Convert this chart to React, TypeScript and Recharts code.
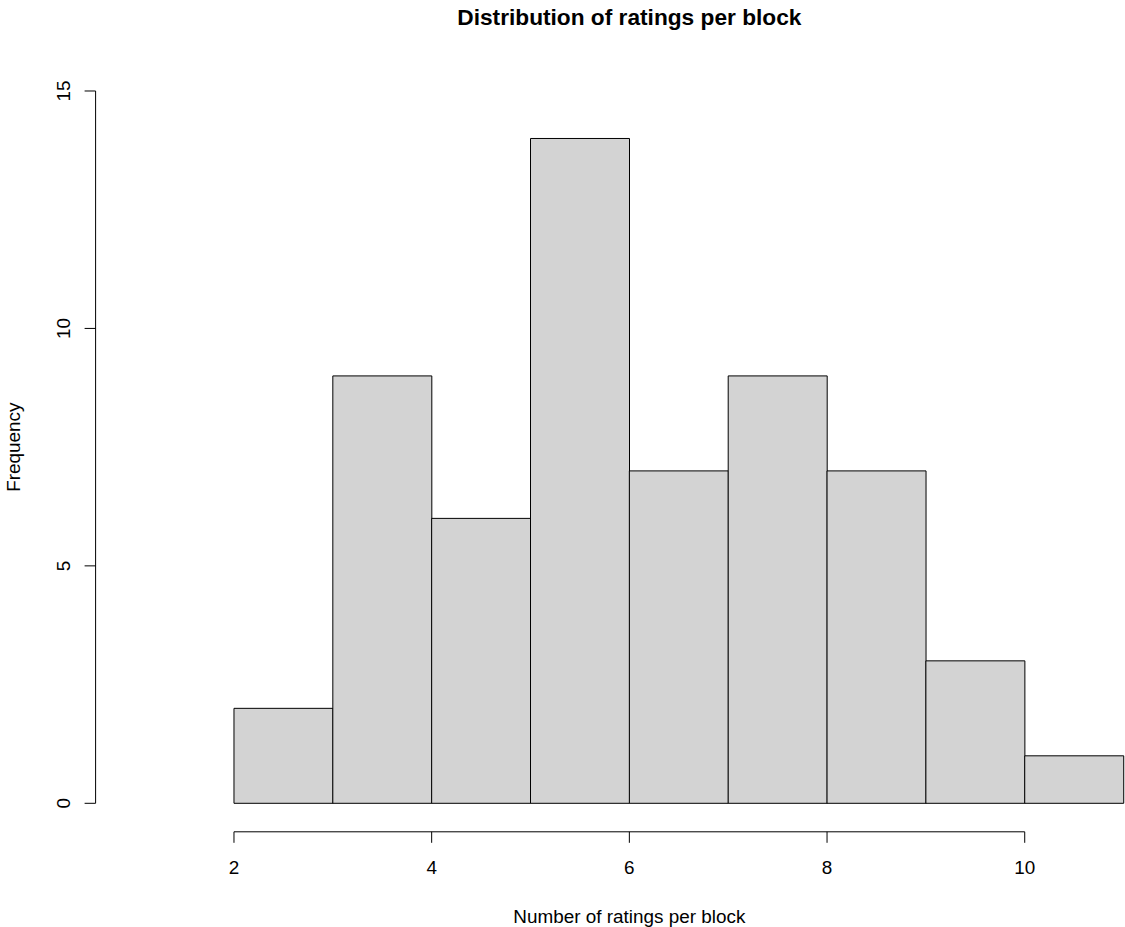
import { ComposedChart, Bar, XAxis, YAxis, ReferenceLine } from "recharts";

// histogram bins (left edge) and their counts
const binStarts = [2, 3, 4, 5, 6, 7, 8, 9, 10];
const binWidth = 1;
const counts = [2, 9, 6, 14, 7, 9, 7, 3, 1];

const xTicks = [2, 4, 6, 8, 10];
const yTicks = [0, 5, 10, 15];
const xDomain = [0.6, 11.4];
const yDomain = [-0.6, 15.6];

const title = "Distribution of ratings per block";
const xLabel = "Number of ratings per block";
const yLabel = "Frequency";

const data = binStarts.map((start, i) => ({
  mid: start + binWidth / 2,
  count: counts[i],
}));

const FONT = "'Liberation Sans', Arial, sans-serif";
const BASE = 18.9;

const W = 1200;
const H = 927;
const plotLeft = 95.6;
const plotRight = 1163.1;
const plotTop = 62.5;
const plotBottom = 831.8;
const midX = (plotLeft + plotRight) / 2;
const midY = (plotTop + plotBottom) / 2;

const YTick = (props: any) => {
  const { x, y, payload } = props;
  return (
    <text
      x={x}
      y={y}
      transform={`rotate(-90 ${x} ${y})`}
      textAnchor="middle"
      fontSize={BASE}
      fontFamily={FONT}
      fill="#000"
    >
      {payload.value}
    </text>
  );
};

export default function App() {
  return (
    <div
      style={{
        position: "fixed",
        left: 0,
        top: 0,
        width: 1125,
        height: 927,
        overflow: "hidden",
        background: "#fff",
      }}
    >
      <ComposedChart
        width={W}
        height={H}
        data={data}
        margin={{ top: plotTop, right: W - plotRight, bottom: 0, left: 0 }}
        barCategoryGap={0}
        barGap={0}
        style={{ fontFamily: FONT }}
      >
        <XAxis
          dataKey="mid"
          type="number"
          domain={xDomain}
          ticks={xTicks}
          allowDataOverflow
          axisLine={false}
          tickLine={{ stroke: "#000" }}
          tickSize={11}
          tickMargin={17.7}
          height={H - plotBottom}
          tick={{ fontSize: BASE, fill: "#000", fontFamily: FONT }}
        />
        <YAxis
          type="number"
          domain={yDomain}
          ticks={yTicks}
          allowDataOverflow
          axisLine={false}
          tickLine={{ stroke: "#000" }}
          tickSize={11}
          tickMargin={14.6}
          width={plotLeft}
          tick={<YTick />}
        />
        <Bar
          dataKey="count"
          fill="#D3D3D3"
          stroke="#000"
          strokeWidth={1}
          isAnimationActive={false}
        />
        <ReferenceLine
          segment={[
            { x: xTicks[0], y: yDomain[0] },
            { x: xTicks[xTicks.length - 1], y: yDomain[0] },
          ]}
          stroke="#000"
          ifOverflow="visible"
        />
        <ReferenceLine
          segment={[
            { x: xDomain[0], y: yTicks[0] },
            { x: xDomain[0], y: yTicks[yTicks.length - 1] },
          ]}
          stroke="#000"
          ifOverflow="visible"
        />
      </ComposedChart>
      <svg
        width={W}
        height={H}
        style={{ position: "absolute", left: 0, top: 0, pointerEvents: "none" }}
      >
        <text
          x={midX}
          y={25}
          textAnchor="middle"
          fontSize={22.7}
          fontWeight="bold"
          fontFamily={FONT}
          fill="#000"
        >
          {title}
        </text>
        <text
          x={midX}
          y={923}
          textAnchor="middle"
          fontSize={BASE}
          fontFamily={FONT}
          fill="#000"
        >
          {xLabel}
        </text>
        <text
          x={20.5}
          y={midY}
          transform={`rotate(-90 20.5 ${midY})`}
          textAnchor="middle"
          fontSize={BASE}
          fontFamily={FONT}
          fill="#000"
        >
          {yLabel}
        </text>
      </svg>
    </div>
  );
}
